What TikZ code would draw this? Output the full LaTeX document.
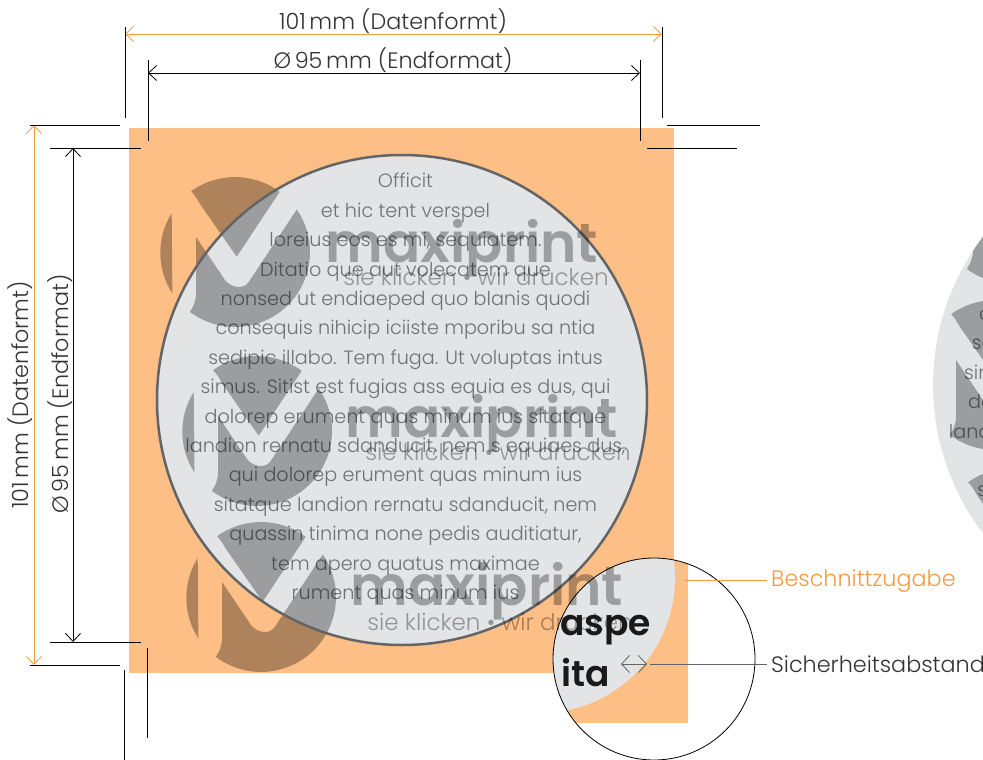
\documentclass[tikz,border=0pt]{standalone}
\usepackage{fontspec}
\setmainfont{Poppins Light}
\newfontfamily\logofont{Poppins SemiBold}
\newfontfamily\heavyfont{Poppins SemiBold}
\usetikzlibrary{arrows.meta}
\definecolor{bleed}{HTML}{FDBF85}
\definecolor{bleedline}{HTML}{F59B3F}
\definecolor{disc}{HTML}{E3E4E6}
\definecolor{discline}{HTML}{636466}
\tikzset{
	dimline/.style={black, line width=0.8pt},
	dimarrow/.style={line width=0.8pt, {Straight Barb[length=8pt,width=15pt]}-{Straight Barb[length=8pt,width=15pt]}},
	dimlabel/.style={font=\fontsize{22.3}{22.3}\selectfont, text=black!80},
	marktext/.style={font=\fontsize{19.2}{29.4}\selectfont, align=center, text=black, text opacity=0.5},
	wordmark/.style={font=\logofont\fontsize{55}{55}\selectfont, anchor=base, text=black, text opacity=0.31},
	tagline/.style={font=\fontsize{23}{24}\selectfont, anchor=base, text=black, text opacity=0.35},
	lenstext/.style={font=\heavyfont\fontsize{36}{36}\selectfont, anchor=base, text=black!90},
	logomark/.pic={
		\fill[black, fill opacity=0.31] (-63.3,-39) arc[start angle=212, end angle=147, radius=75] -- cycle;
		\fill[black, fill opacity=0.31] (-43.9,-60.8) arc[start angle=234.2, end angle=306.6, radius=75] -- (1.7,4.7) -- (-35,-48) .. controls (-38,-53) and (-40,-57) .. cycle;
		\fill[black, fill opacity=0.31] (61.8,-42.5) arc[start angle=-34.5, end angle=127, radius=75] .. controls (-42,55) and (-39,50) .. (-39,41) -- (-39,-15) -- (-10,28) .. controls (-5,35) and (7,38) .. (13,31) -- cycle;
	}
}
\newcommand{\disctext}{Officit\\ et hic tent verspel\\ loreius eos es mi, sequiatem.\\ Ditatio que aut volecatem que\\ nonsed ut endiaeped quo blanis quodi\\ consequis nihicip iciiste mporibu sa ntia\\ sedipic illabo. Tem fuga. Ut voluptas intus\\ simus. Sitist est fugias ass equia es dus, qui\\ dolorep erument quas minum ius sitatque\\ landion rernatu sdanducit, nem s equiaes dus,\\ qui dolorep erument quas minum ius\\ sitatque landion rernatu sdanducit, nem\\ quassin tinima none pedis auditiatur,\\ tem apero quatus maximae\\ rument quas minum ius}
\begin{document}
\begin{tikzpicture}[x=1pt, y=-1pt]
	\useasboundingbox (0,0) rectangle (983,760);
	% bleed area and disc
	\fill[bleed] (129,128) rectangle (674,673);
	\fill[disc] (402,400) circle[radius=245];
	\pic at (235,252) {logomark};
	\pic at (257,431) {logomark};
	\pic at (261,597) {logomark};
	\draw[discline, line width=2.5pt] (402,400) circle[radius=245];
	\node[marktext] (body) at (405.5,389) {\disctext};
	\node[wordmark] (markA) at (462,262) {maxiprint};
	\node[wordmark] (markB) at (482,437) {maxiprint};
	\node[tagline] (tagA) at (476,285) {sie klicken • wir drucken};
	\node[tagline] (tagB) at (498,460) {sie klicken • wir drucken};
	% second disc, cut by the page
	\begin{scope}
		\clip (1178,385) circle[radius=245];
		\fill[disc] (1178,385) circle[radius=245];
		\pic at (1012,209) {logomark};
		\pic at (995,375) {logomark};
		\pic at (1012,543) {logomark};
		\node[marktext] (bodyB) at (1169,374.5) {\disctext};
	\end{scope}
	% detail lens
	\fill[white] (654,659) circle[radius=101];
	\begin{scope}
		\clip (654,659) circle[radius=101];
		\fill[bleed] (540,540) rectangle (688,723);
		\fill[disc] (540,578) circle[radius=135];
	\end{scope}
	\draw[black, line width=0.8pt] (654,659) circle[radius=101];
	\node[wordmark] (markC) at (487,605) {maxiprint};
	\node[tagline] (tagC) at (500,630) {sie klicken • wir drucken};
	\node[lenstext, anchor=base west, inner sep=0pt] (aspe) at (560,635) {aspe};
	\node[lenstext, anchor=base west, inner sep=0pt] (ita) at (561,686) {ita};
	% dimensions on top
	\coordinate (dataL) at (125,34);
	\coordinate (dataR) at (662,34);
	\coordinate (endL) at (148,73);
	\coordinate (endR) at (640,73);
	\coordinate (dataT) at (34,125);
	\coordinate (dataB) at (34,665);
	\coordinate (endT) at (73,148);
	\coordinate (endB) at (73,642);
	\draw[dimarrow, bleedline] (dataL) -- (dataR);
	\draw[dimarrow] (endL) -- (endR);
	\draw[dimarrow, bleedline] (dataT) -- (dataB);
	\draw[dimarrow] (endT) -- (endB);
	\draw[dimline] (125,27) -- (125,118);
	\draw[dimline] (662,27) -- (662,118);
	\draw[dimline] (148,60) -- (148,141);
	\draw[dimline] (640,60) -- (640,141);
	\draw[dimline] (667,125) -- (760,125);
	\draw[dimline] (647,148) -- (737,148);
	\draw[dimline] (30,125) -- (120,125);
	\draw[dimline] (30,665) -- (120,665);
	\draw[dimline] (50,148) -- (141,148);
	\draw[dimline] (50,642) -- (141,642);
	\draw[dimline] (124,670) -- (124,760);
	\draw[dimline] (147,648) -- (147,738);
	\node[dimlabel] (dataTop) at (393,21) {101\,mm (Datenformt)};
	\node[dimlabel] (endTop) at (393,60) {Ø\,95\,mm (Endformat)};
	\node[dimlabel, rotate=90] (dataLeft) at (20,395) {101\,mm (Datenformt)};
	\node[dimlabel, rotate=90] (endLeft) at (60,394) {Ø\,95\,mm (Endformat)};
	% callouts
	\node[dimlabel, text=bleedline, anchor=west, inner sep=0pt] (bleedlabel) at (771,581) {Beschnittzugabe};
	\node[dimlabel, anchor=west, inner sep=0pt] (safelabel) at (771,664) {Sicherheitsabstand};
	\coordinate (bleedend) at (685,580);
	\coordinate (safeend) at (650,664);
	\coordinate (gapL) at (621,664);
	\coordinate (gapR) at (647,664);
	\draw[bleedline, line width=0.8pt] (bleedlabel.west) ++(-4,-1) -- (bleedend);
	\draw[discline, line width=0.9pt] (safelabel.west) ++(-4,0) -- (safeend);
	\draw[discline, line width=0.8pt, {Straight Barb[length=8pt,width=17pt]}-{Straight Barb[length=8pt,width=17pt]}] (gapL) -- (gapR);
\end{tikzpicture}
\end{document}
